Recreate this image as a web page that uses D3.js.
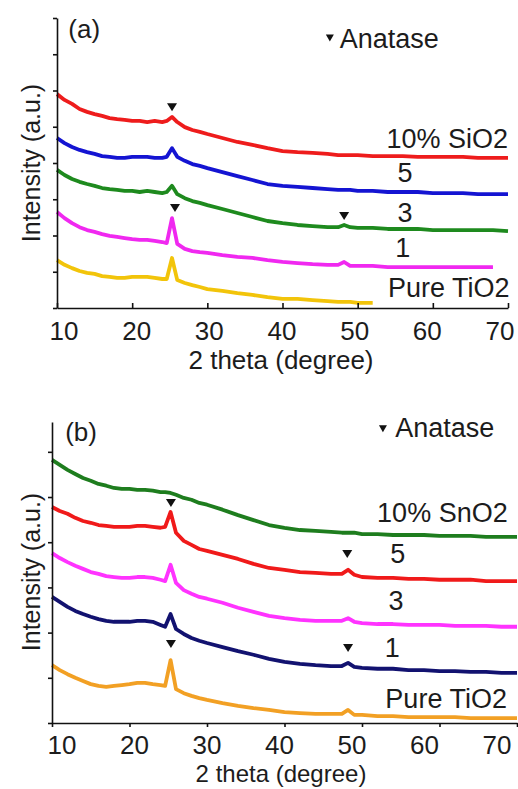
<!DOCTYPE html>
<html>
<head>
<meta charset="utf-8">
<script src="https://cdn.jsdelivr.net/npm/d3@7"></script>
<style>
  body { margin: 0; background: #fff; }
  svg { display: block; }
  text { font-family: "Liberation Sans", Arial, sans-serif; fill: #1c1c1c; }
</style>
</head>
<body>
<div id="chart"></div>
<script>
// 2 theta grid shared by every pattern (denser around the anatase peaks)
const twoTheta = [10,11,12,13,14,15,16,17,18,19,20,21,22,23,24,24.6,25.3,26,27,28,29,30,32,34,36,38,40,42,44,46,47.4,48.2,49,50,52,54,56,58,60,62,64,66,68,70];
const xTicks = [10,20,30,40,50,60,70];

// panel (a): SiO2 series, intensity in a.u. (one unit = one y tick)
const siLabels = ["10% SiO2", "5", "3", "1", "Pure TiO2"];
const si10 = [5.90,5.74,5.63,5.49,5.41,5.35,5.30,5.24,5.21,5.19,5.16,5.16,5.13,5.16,5.13,5.16,5.27,5.13,4.99,4.91,4.86,4.80,4.69,4.58,4.50,4.41,4.33,4.30,4.28,4.25,4.22,4.22,4.22,4.22,4.19,4.19,4.19,4.17,4.17,4.17,4.17,4.14,4.14,4.14];
const si5 = [4.69,4.55,4.44,4.36,4.30,4.25,4.19,4.17,4.14,4.14,4.17,4.17,4.17,4.14,4.14,4.17,4.41,4.17,4.06,3.97,3.92,3.86,3.75,3.64,3.53,3.42,3.37,3.34,3.31,3.28,3.26,3.26,3.26,3.23,3.23,3.20,3.20,3.20,3.17,3.17,3.17,3.14,3.14,3.14];
const si3 = [3.81,3.67,3.56,3.48,3.42,3.37,3.31,3.28,3.26,3.23,3.23,3.20,3.23,3.20,3.17,3.20,3.37,3.14,3.03,2.95,2.90,2.84,2.73,2.62,2.51,2.40,2.34,2.29,2.26,2.23,2.23,2.29,2.23,2.21,2.21,2.18,2.18,2.18,2.15,2.15,2.15,2.15,2.15,2.12];
const si1 = [2.65,2.48,2.34,2.23,2.15,2.10,2.04,1.99,1.96,1.93,1.90,1.88,1.88,1.85,1.82,1.79,2.48,1.77,1.63,1.57,1.54,1.52,1.46,1.41,1.38,1.32,1.27,1.24,1.21,1.19,1.19,1.27,1.16,1.16,1.16,1.13,1.13,1.13,1.13,1.13,1.13,1.13,1.13,null];
const siPure = [1.32,1.19,1.10,1.02,0.97,0.94,0.88,0.86,0.83,0.83,0.86,0.86,0.86,0.83,0.80,0.80,1.38,0.77,0.69,0.63,0.58,0.52,0.47,0.41,0.36,0.30,0.25,0.25,0.22,0.19,0.17,0.17,0.17,0.14,0.14,null,null,null,null,null,null,null,null,null];
const siAnatase = [[25.3, 5.54], [25.7, 2.76], [48.2, 2.54]];

// panel (b): SnO2 series
const snLabels = ["10% SnO2", "5", "3", "1", "Pure TiO2"];
const sn10 = [5.82,5.71,5.60,5.51,5.42,5.36,5.29,5.25,5.20,5.18,5.18,5.16,5.16,5.14,5.11,5.11,5.09,5.05,4.98,4.94,4.87,4.83,4.72,4.60,4.49,4.38,4.32,4.27,4.25,4.23,4.21,4.21,4.21,4.18,4.18,4.16,4.16,4.16,4.14,4.14,4.14,4.12,4.12,4.12];
const sn5 = [4.78,4.69,4.63,4.54,4.47,4.43,4.38,4.36,4.34,4.34,4.34,4.36,4.36,4.34,4.32,4.34,4.67,4.21,4.03,3.94,3.85,3.81,3.72,3.63,3.52,3.43,3.39,3.34,3.32,3.30,3.30,3.39,3.28,3.23,3.21,3.21,3.19,3.19,3.17,3.17,3.17,3.14,3.14,3.14];
const sn3 = [3.76,3.65,3.56,3.48,3.41,3.34,3.30,3.25,3.23,3.21,3.21,3.23,3.23,3.21,3.17,3.14,3.50,3.10,2.94,2.86,2.79,2.75,2.66,2.55,2.46,2.37,2.32,2.28,2.26,2.26,2.26,2.32,2.24,2.21,2.19,2.19,2.17,2.17,2.17,2.15,2.15,2.15,2.13,2.13];
const sn1 = [2.79,2.68,2.57,2.48,2.41,2.35,2.30,2.26,2.24,2.24,2.24,2.26,2.26,2.24,2.17,2.13,2.41,2.08,1.97,1.88,1.82,1.77,1.68,1.59,1.51,1.42,1.35,1.31,1.28,1.26,1.26,1.33,1.24,1.22,1.20,1.20,1.17,1.17,1.15,1.15,1.13,1.13,1.11,1.11];
const snPure = [1.28,1.17,1.08,1.00,0.93,0.86,0.82,0.80,0.82,0.84,0.86,0.89,0.89,0.86,0.84,0.82,1.39,0.75,0.66,0.60,0.55,0.51,0.44,0.38,0.33,0.29,0.24,0.22,0.20,0.20,0.20,0.29,0.18,0.18,0.15,0.15,0.13,0.13,0.13,0.13,0.11,0.11,0.11,0.11];
const snAnatase = [[25.35, 4.87], [48.1, 3.74], [25.35, 1.75], [48.2, 1.66]];

const width = 518, height = 789;
const svg = d3.select("#chart").append("svg")
  .attr("width", width)
  .attr("height", height);

svg.append("rect").attr("width", width).attr("height", height).attr("fill", "#fff");

const triPath = "M-5,-4L5,-4L0,4Z";

function drawPanel(cfg) {
  const x = d3.scaleLinear().domain([10, 70]).range(cfg.xRange);
  const y = d3.scaleLinear().domain(cfg.yDomain).range(cfg.yRange);
  // tick labels in the source sit slightly off their ticks
  const xLab = d3.scaleLinear().domain([10, 70]).range(cfg.labRange);
  const g = svg.append("g");

  const line = d3.line()
    .defined(d => d[1] != null)
    .x(d => x(d[0]))
    .y(d => y(d[1]));

  cfg.series.forEach((s, i) => {
    g.append("path")
      .datum(twoTheta.map((t, k) => [t, s[k]]))
      .attr("d", line)
      .attr("fill", "none")
      .attr("stroke", cfg.colors[i])
      .attr("stroke-width", 3.8)
      .attr("stroke-linejoin", "round");
  });

  // axes
  const yAxis = d3.axisLeft(y).tickValues(d3.range(0, cfg.nTicks + 1)).tickFormat("").tickSize(4).tickSizeOuter(0);
  g.append("g").attr("transform", `translate(${cfg.xRange[0]},0)`).call(yAxis)
    .call(a => a.selectAll("path,line").attr("stroke", "#111").attr("stroke-width", 1.6));

  const xAxis = d3.axisBottom(x).tickValues(xTicks).tickFormat("").tickSize(cfg.xTickSize).tickSizeOuter(0);
  g.append("g").attr("transform", `translate(0,${cfg.yRange[0]})`).call(xAxis)
    .call(a => a.selectAll("path,line").attr("stroke", "#111").attr("stroke-width", 1.6));

  g.selectAll(".xlab").data(xTicks).enter().append("text")
    .attr("x", d => xLab(d))
    .attr("y", cfg.yRange[0] + cfg.tickLabDy)
    .attr("text-anchor", "middle")
    .style("font-size", "26px")
    .text(d => d);

  g.append("text")
    .attr("x", 281)
    .attr("y", cfg.xTitleY)
    .attr("text-anchor", "middle")
    .style("font-size", cfg.xTitleSize + "px")
    .text("2 theta (degree)");

  g.append("text")
    .attr("transform", `translate(40,${cfg.yTitleY}) rotate(-90)`)
    .attr("text-anchor", "middle")
    .style("font-size", "25px")
    .text("Intensity (a.u.)");

  // anatase markers
  g.selectAll(".tri").data(cfg.anatase).enter().append("path")
    .attr("d", triPath)
    .attr("transform", d => `translate(${x(d[0])},${y(d[1])})`)
    .attr("fill", "#111");

  // legend
  g.append("path")
    .attr("d", "M-4,-3.5L4,-3.5L0,3.5Z")
    .attr("transform", `translate(${x(cfg.legend[0])},${y(cfg.legend[1])})`)
    .attr("fill", "#111");
  g.append("text")
    .attr("x", x(cfg.legend[2]))
    .attr("y", y(cfg.legend[3]))
    .style("font-size", "27px")
    .text("Anatase");

  // panel tag
  g.append("text")
    .attr("x", x(cfg.tag[1]))
    .attr("y", y(cfg.tag[2]))
    .style("font-size", "26px")
    .text(cfg.tag[0]);

  // series labels
  cfg.labels.forEach((lab, i) => {
    const p = cfg.labelPos[i];
    g.append("text")
      .attr("x", x(p[0]))
      .attr("y", y(p[1]))
      .attr("text-anchor", p[2])
      .style("font-size", "27px")
      .text(lab);
  });
}

drawPanel({
  xRange: [57, 508],
  yRange: [308, 18],
  yDomain: [0, 8],
  nTicks: 8,
  labRange: [64, 500],
  xTickSize: -5,
  tickLabDy: 32,
  xTitleY: 369,
  xTitleSize: 26,
  yTitleY: 163,
  series: [si10, si5, si3, si1, siPure],
  colors: ["#ee1c1c", "#1414d2", "#1e8a1e", "#f028f0", "#f2c40a"],
  anatase: siAnatase,
  legend: [46.3, 7.45, 47.6, 7.17],
  tag: ["(a)", 11.5, 7.45],
  labels: siLabels,
  labelPos: [[70, 4.41, "end"], [56.3, 3.48, "middle"], [56.3, 2.37, "middle"], [56.0, 1.41, "middle"], [70.2, 0.30, "end"]]
});

drawPanel({
  xRange: [52, 517],
  yRange: [723, 422],
  yDomain: [0, 6.66],
  nTicks: 6,
  labRange: [62, 497],
  xTickSize: 4,
  tickLabDy: 31,
  xTitleY: 782,
  xTitleSize: 24,
  yTitleY: 572,
  series: [sn10, sn5, sn3, sn1, snPure],
  colors: ["#1e7d1e", "#f01a1a", "#ff33ff", "#121270", "#f2a024"],
  anatase: snAnatase,
  legend: [52.7, 6.51, 54.3, 6.33],
  tag: ["(b)", 11.7, 6.24],
  labels: snLabels,
  labelPos: [[68.8, 4.45, "end"], [54.6, 3.54, "middle"], [54.4, 2.50, "middle"], [53.9, 1.46, "middle"], [68.7, 0.33, "end"]]
});
</script>
</body>
</html>
